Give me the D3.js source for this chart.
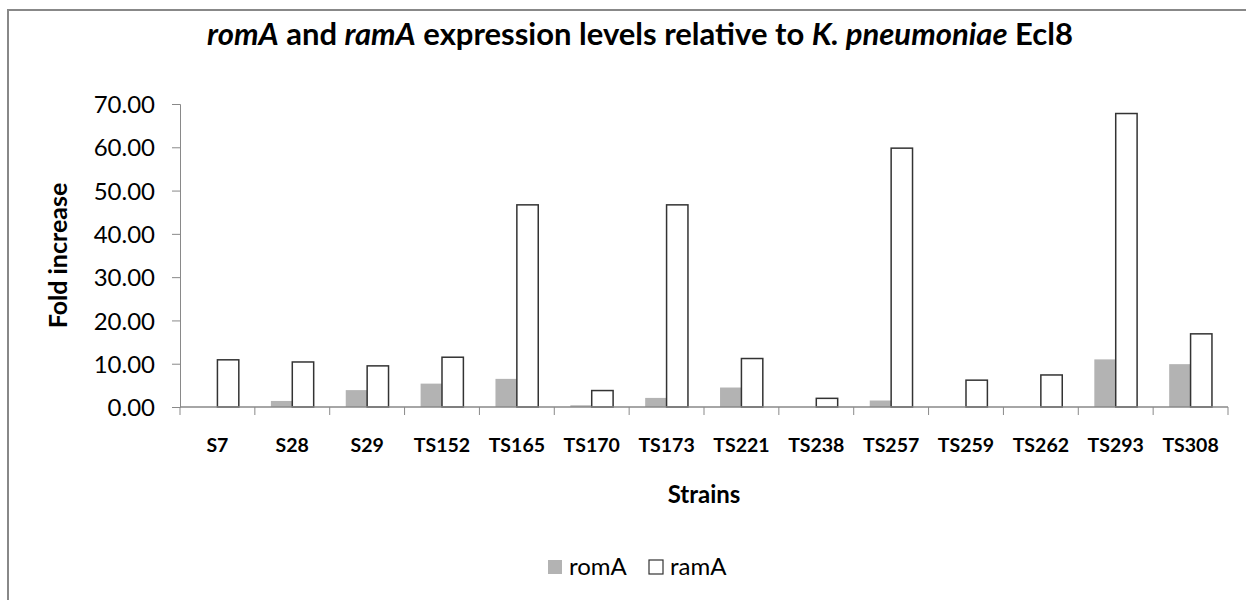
<!DOCTYPE html>
<html>
<head>
<meta charset="utf-8">
<script src="https://cdn.jsdelivr.net/npm/d3@7"></script>
<style>
  body { margin: 0; background: #fff; }
  svg { display: block; }
  text { font-family: Lato, "Open Sans", sans-serif; fill: #000; }
</style>
</head>
<body>
<div id="vis-container"></div>
<script>
const strains = ["S7", "S28", "S29", "TS152", "TS165", "TS170", "TS173", "TS221", "TS238", "TS257", "TS259", "TS262", "TS293", "TS308"];
const series = ["romA", "ramA"];
const romA = [0, 1.4, 3.9, 5.4, 6.5, 0.4, 2.1, 4.5, 0, 1.5, 0, 0, 11.0, 9.9];
const ramA = [10.9, 10.4, 9.5, 11.5, 46.7, 3.8, 46.7, 11.2, 2.0, 59.8, 6.2, 7.4, 67.8, 16.9];
const yTicks = [0, 10, 20, 30, 40, 50, 60, 70];

const W = 1246, H = 600;
const margin = { top: 104, right: 18, bottom: 193, left: 180 },
      width = W - margin.left - margin.right,
      height = H - margin.top - margin.bottom;

const root = d3.select("#vis-container")
  .append("svg")
    .attr("width", W)
    .attr("height", H);

// Outer frame (runs off the right and bottom edges)
root.append("rect")
  .attr("x", 8).attr("y", 10)
  .attr("width", 1400).attr("height", 800)
  .attr("fill", "#fff")
  .attr("stroke", "#888")
  .attr("stroke-width", 2);

// Title
const title = root.append("text")
  .attr("x", 640)
  .attr("y", 45)
  .attr("text-anchor", "middle")
  .style("font-size", "31px")
  .style("font-weight", "bold");
[["romA", true], [" and ", false], ["ramA", true], [" expression levels relative to ", false],
 ["K. pneumoniae", true], [" Ecl8", false]].forEach(([t, it]) => {
  title.append("tspan").style("font-style", it ? "italic" : "normal").text(t);
});

const svg = root.append("g")
  .attr("transform", `translate(${margin.left},${margin.top})`);

const x0 = d3.scaleBand()
  .domain(strains)
  .range([0, width])
  .padding(0);

const x1 = d3.scaleBand()
  .domain(series)
  .range([0, x0.bandwidth()])
  .paddingInner(0)
  .paddingOuter(0.75);

const y = d3.scaleLinear()
  .domain([0, 70])
  .range([height, 0]);

const color = { romA: "#b3b3b3", ramA: "#fff" };

// Bars
const rows = strains.map((s, i) => ({ strain: s, romA: romA[i], ramA: ramA[i] }));

const groups = svg.selectAll("g.grp")
  .data(rows)
  .join("g")
    .attr("class", "grp")
    .attr("transform", d => `translate(${x0(d.strain)},0)`);

groups.selectAll("rect")
  .data(d => series.map(k => ({ key: k, value: d[k] })))
  .join("rect")
    .attr("x", d => x1(d.key))
    .attr("y", d => y(d.value))
    .attr("width", x1.bandwidth())
    .attr("height", d => height - y(d.value))
    .attr("fill", d => color[d.key])
    .attr("stroke", d => d.key === "ramA" && d.value > 0 ? "#333" : "none")
    .attr("stroke-width", 1.5);

// Y axis
const yAxis = svg.append("g")
  .call(d3.axisLeft(y).tickValues(yTicks).tickFormat(d3.format(".2f")).tickSize(8).tickPadding(17));
yAxis.select(".domain").attr("stroke", "#898989");
yAxis.selectAll(".tick line").attr("stroke", "#898989");
yAxis.selectAll(".tick text").style("font-size", "24px").attr("dy", "0.36em");

// X axis: line plus ticks at band boundaries
const xAxis = svg.append("g")
  .attr("transform", `translate(0,${height})`);
xAxis.append("line")
  .attr("x1", 0).attr("x2", width)
  .attr("stroke", "#898989").attr("stroke-width", 1.5);
xAxis.selectAll("line.tk")
  .data(strains.concat(["end"]))
  .join("line")
    .attr("class", "tk")
    .attr("x1", (d, i) => i * x0.step()).attr("x2", (d, i) => i * x0.step())
    .attr("y1", 0).attr("y2", 8)
    .attr("stroke", "#898989");
xAxis.selectAll("text")
  .data(strains)
  .join("text")
    .attr("x", d => x0(d) + x0.bandwidth() / 2)
    .attr("y", 45)
    .attr("text-anchor", "middle")
    .style("font-size", "19.5px")
    .style("font-weight", "bold")
    .text(d => d);

// Axis titles
svg.append("text")
  .attr("x", width / 2)
  .attr("y", height + 96)
  .attr("text-anchor", "middle")
  .style("font-size", "24px")
  .style("font-weight", "bold")
  .text("Strains");

svg.append("text")
  .attr("transform", `translate(${67 - margin.left},${height / 2}) rotate(-90)`)
  .attr("text-anchor", "middle")
  .style("font-size", "25px")
  .style("font-weight", "bold")
  .text("Fold increase");

// Legend
const legend = root.append("g")
  .attr("transform", "translate(548,560)");
series.forEach((k, i) => {
  const g = legend.append("g").attr("transform", `translate(${i * 101},0)`);
  g.append("rect")
    .attr("width", 14).attr("height", 14)
    .attr("fill", color[k])
    .attr("stroke", k === "ramA" ? "#333" : "none")
    .attr("stroke-width", 1.2);
  g.append("text")
    .attr("x", 21).attr("y", 15)
    .style("font-size", "24px")
    .text(k);
});
</script>
</body>
</html>
